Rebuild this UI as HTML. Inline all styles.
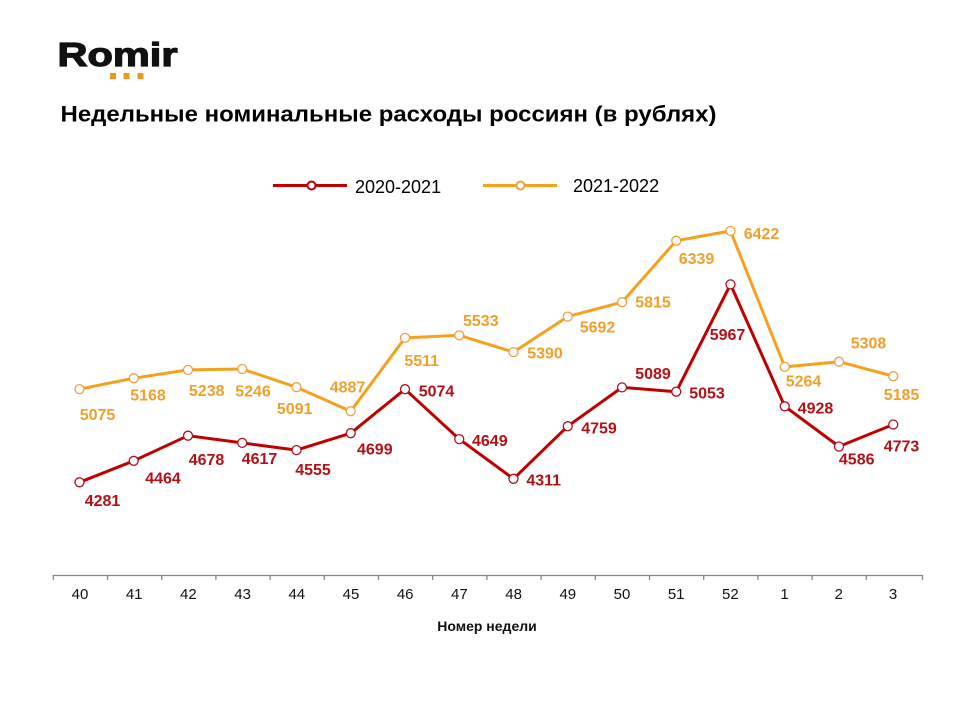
<!DOCTYPE html>
<html><head><meta charset="utf-8"><style>
html,body{margin:0;padding:0;background:#fff;}
svg{display:block;}
text{font-family:"Liberation Sans",Arial,sans-serif;}
</style></head><body>
<svg width="960" height="720" viewBox="0 0 960 720" xmlns="http://www.w3.org/2000/svg">
<rect width="960" height="720" fill="#fff"/>
<!-- logo -->
<text x="57.5" y="66" font-size="33" font-weight="bold" fill="#111" stroke="#111" stroke-width="1.2" textLength="120" lengthAdjust="spacingAndGlyphs">Romir</text>
<rect x="110" y="73" width="6" height="6" fill="#F7941D"/>
<rect x="123.5" y="73" width="6" height="6" fill="#F7941D"/>
<rect x="137.5" y="73" width="6" height="6" fill="#F7941D"/>
<!-- title -->
<text x="60.5" y="121.5" font-size="22" font-weight="bold" fill="#000" textLength="656" lengthAdjust="spacingAndGlyphs">Недельные номинальные расходы россиян (в рублях)</text>
<!-- legend -->
<line x1="273" y1="185.5" x2="347" y2="185.5" stroke="#C00000" stroke-width="3"/>
<circle cx="311.5" cy="185.5" r="4" fill="#fff" stroke="#C00000" stroke-width="2"/>
<text x="355" y="193" font-size="18" fill="#000">2020-2021</text>
<line x1="483" y1="185.5" x2="557" y2="185.5" stroke="#F5A11E" stroke-width="3"/>
<circle cx="520.5" cy="185.5" r="4" fill="#fff" stroke="#F0A040" stroke-width="2"/>
<text x="573" y="192" font-size="18" fill="#000">2021-2022</text>
<!-- axis -->
<g stroke="#888" stroke-width="1.3">
<line x1="53.3" y1="575.5" x2="922.5" y2="575.5"/>
<line x1="53.3" y1="575" x2="53.3" y2="580"/>
<line x1="107.5" y1="575" x2="107.5" y2="580"/>
<line x1="161.7" y1="575" x2="161.7" y2="580"/>
<line x1="215.9" y1="575" x2="215.9" y2="580"/>
<line x1="270.1" y1="575" x2="270.1" y2="580"/>
<line x1="324.3" y1="575" x2="324.3" y2="580"/>
<line x1="378.5" y1="575" x2="378.5" y2="580"/>
<line x1="432.7" y1="575" x2="432.7" y2="580"/>
<line x1="486.9" y1="575" x2="486.9" y2="580"/>
<line x1="541.1" y1="575" x2="541.1" y2="580"/>
<line x1="595.3" y1="575" x2="595.3" y2="580"/>
<line x1="649.5" y1="575" x2="649.5" y2="580"/>
<line x1="703.7" y1="575" x2="703.7" y2="580"/>
<line x1="757.9" y1="575" x2="757.9" y2="580"/>
<line x1="812.1" y1="575" x2="812.1" y2="580"/>
<line x1="866.3" y1="575" x2="866.3" y2="580"/>
<line x1="922.5" y1="575" x2="922.5" y2="580"/>
</g>
<g font-size="15" fill="#111" text-anchor="middle">
<text x="80" y="599">40</text>
<text x="134.2" y="599">41</text>
<text x="188.4" y="599">42</text>
<text x="242.6" y="599">43</text>
<text x="296.8" y="599">44</text>
<text x="351" y="599">45</text>
<text x="405.2" y="599">46</text>
<text x="459.4" y="599">47</text>
<text x="513.6" y="599">48</text>
<text x="567.8" y="599">49</text>
<text x="622" y="599">50</text>
<text x="676.2" y="599">51</text>
<text x="730.4" y="599">52</text>
<text x="784.6" y="599">1</text>
<text x="838.8" y="599">2</text>
<text x="893" y="599">3</text>
</g>
<text x="487" y="631" font-size="14" font-weight="bold" fill="#111" text-anchor="middle">Номер недели</text>
<!-- orange series -->
<polyline fill="none" stroke="#F5A11E" stroke-width="3" stroke-linejoin="round" points="79.5,389.1 133.75,378.2 188,369.9 242.25,369 296.5,387.2 350.75,411.2 405,337.9 459.25,335.3 513.5,352.1 567.75,316.6 622,302.2 676.25,240.7 730.5,230.9 784.75,366.9 839,361.7 893.25,376.2"/>
<g fill="#fff" stroke="#F0A040" stroke-width="1.3">
<circle cx="79.5" cy="389.1" r="4.5"/><circle cx="133.75" cy="378.2" r="4.5"/><circle cx="188" cy="369.9" r="4.5"/><circle cx="242.25" cy="369" r="4.5"/><circle cx="296.5" cy="387.2" r="4.5"/><circle cx="350.75" cy="411.2" r="4.5"/><circle cx="405" cy="337.9" r="4.5"/><circle cx="459.25" cy="335.3" r="4.5"/><circle cx="513.5" cy="352.1" r="4.5"/><circle cx="567.75" cy="316.6" r="4.5"/><circle cx="622" cy="302.2" r="4.5"/><circle cx="676.25" cy="240.7" r="4.5"/><circle cx="730.5" cy="230.9" r="4.5"/><circle cx="784.75" cy="366.9" r="4.5"/><circle cx="839" cy="361.7" r="4.5"/><circle cx="893.25" cy="376.2" r="4.5"/>
</g>
<!-- red series -->
<polyline fill="none" stroke="#C00000" stroke-width="3" stroke-linejoin="round" points="79.5,482.3 133.75,460.8 188,435.7 242.25,442.9 296.5,450.1 350.75,433.2 405,389.2 459.25,439.1 513.5,478.8 567.75,426.2 622,387.4 676.25,391.7 730.5,284.4 784.75,406.3 839,446.5 893.25,424.5"/>
<g fill="#fff" stroke="#B01020" stroke-width="1.3">
<circle cx="79.5" cy="482.3" r="4.5"/><circle cx="133.75" cy="460.8" r="4.5"/><circle cx="188" cy="435.7" r="4.5"/><circle cx="242.25" cy="442.9" r="4.5"/><circle cx="296.5" cy="450.1" r="4.5"/><circle cx="350.75" cy="433.2" r="4.5"/><circle cx="405" cy="389.2" r="4.5"/><circle cx="459.25" cy="439.1" r="4.5"/><circle cx="513.5" cy="478.8" r="4.5"/><circle cx="567.75" cy="426.2" r="4.5"/><circle cx="622" cy="387.4" r="4.5"/><circle cx="676.25" cy="391.7" r="4.5"/><circle cx="730.5" cy="284.4" r="4.5"/><circle cx="784.75" cy="406.3" r="4.5"/><circle cx="839" cy="446.5" r="4.5"/><circle cx="893.25" cy="424.5" r="4.5"/>
</g>
<!-- orange labels -->
<g font-size="16" font-weight="bold" fill="#F0A02A" text-anchor="middle">
<text x="97.5" y="420">5075</text>
<text x="148" y="400.7">5168</text>
<text x="206.7" y="396">5238</text>
<text x="253" y="396.5">5246</text>
<text x="294.7" y="414">5091</text>
<text x="347.5" y="392.7">4887</text>
<text x="421.7" y="366">5511</text>
<text x="480.8" y="326">5533</text>
<text x="545" y="358.3">5390</text>
<text x="597.5" y="332.3">5692</text>
<text x="653" y="307.7">5815</text>
<text x="696.5" y="264">6339</text>
<text x="761.5" y="239">6422</text>
<text x="803.5" y="386.7">5264</text>
<text x="868.5" y="348.3">5308</text>
<text x="901.5" y="400">5185</text>
</g>
<!-- red labels -->
<g font-size="16" font-weight="bold" fill="#B41018" text-anchor="middle">
<text x="102.5" y="506">4281</text>
<text x="163" y="483.3">4464</text>
<text x="206.5" y="465">4678</text>
<text x="259.5" y="464">4617</text>
<text x="313" y="475">4555</text>
<text x="374.8" y="454.3">4699</text>
<text x="436.5" y="396.7">5074</text>
<text x="489.8" y="446">4649</text>
<text x="543.7" y="485.3">4311</text>
<text x="599" y="433.3">4759</text>
<text x="653" y="379">5089</text>
<text x="707" y="398.3">5053</text>
<text x="727.5" y="340">5967</text>
<text x="815.5" y="413.3">4928</text>
<text x="856.7" y="464.3">4586</text>
<text x="901.5" y="451.7">4773</text>
</g>
</svg>
</body></html>
